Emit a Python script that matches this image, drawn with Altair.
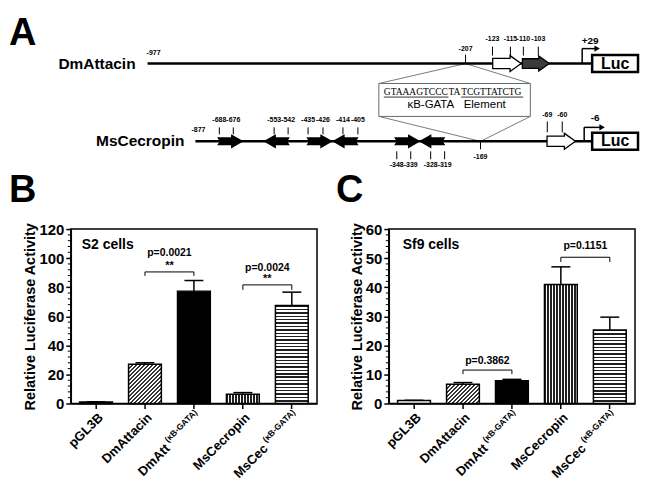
import math
import altair as alt
import pandas as pd

FONT = "Liberation Sans"
SERIF = "Liberation Serif"

# ================= Panel A : promoter schematics (schematic track units) ======
A_LEFT, A_RIGHT, A_H = 62, 633, 161      # track extent; panel origin sits at A_LEFT
row_names = ["DmAttacin", "MsCecropin"]
row_y = [54, 132]
row_label_x = [127, 176]
row_line_x1 = [139, 187]
row_line_x2 = [585, 585]
start_label = ["-977", "-877"]
start_label_x = [145, 190]
start_label_y = [43, 121]

site_label = ["-207", "-123", "-115", "-110", "-103",
              "-688", "-676", "-553", "-542", "-435", "-426", "-414", "-405",
              "-348", "-339", "-328", "-319", "-169", "-69", "-60"]
site_x = [458, 485, 503, 516, 531,
          211, 225, 266, 280, 300, 315, 335, 350,
          389, 403, 423, 437, 473, 540, 555]
site_y1 = [45, 37, 37, 37, 37] + [118] * 8 + [142] * 4 + [132, 112, 112]
site_y2 = [54, 46, 46, 46, 46] + [125] * 8 + [150] * 4 + [140, 123, 123]
site_label_y = [39, 29, 29, 29, 29] + [111] * 8 + [156] * 4 + [148, 106, 106]

arrow_x = [499.5, 528.5, 554, 222, 268.5, 311.5, 337.5, 399.5, 424.5]
arrow_row = [0, 0, 1, 1, 1, 1, 1, 1, 1]
arrow_angle = [0, 0, 0, 0, 180, 0, 180, 0, 180]
arrow_kind = ["open", "dark", "open", "black", "black", "black", "black", "black", "black"]

tss_x = [575, 577]
tss_top = [39, 118]
tss_tip = [590, 595]
tss_label = ["+29", "-6"]
tss_label_x = [583, 588]
tss_label_y = [31, 109]

luc_x1, luc_x2, luc_half = 585, 631, 8.5

zoom_x1 = [458, 458, 371, 523]
zoom_y1 = [54, 54, 107, 107]
zoom_x2 = [371, 523, 473, 473]
zoom_y2 = [74, 74, 132, 132]
box_x = [371, 523]
box_y = [74, 107]

seq_parts = ["GTAAAGTCCC", "TA", "TCGTTATCTG"]
seq_underlined = [True, False, True]
seq_start, seq_base, seq_size = 376, 86, 9.5
element_text = "\u03baB-GATA\u00a0\u00a0\u00a0Element"
element_x, element_y = 449, 96

# ================= Panels B / C : luciferase assays ==========================
categories = ["pGL3B", "DmAttacin", "DmAtt", "MsCecropin", "MsCec"]
sup_text = ["", "", "(\u03baB-GATA)", "", "(\u03baB-GATA)"]
patterns = ["white", "diag", "black", "vert", "horiz"]

s2_mean = [1.0, 27.0, 77.3, 6.3, 67.4]
s2_sem = [0.2, 1.0, 7.3, 1.2, 9.2]
sf9_mean = [1.0, 6.6, 7.8, 40.9, 25.3]
sf9_sem = [0.1, 0.6, 0.5, 6.1, 4.4]

s2_br_from = ["DmAttacin", "MsCecropin"]
s2_br_to = ["DmAtt", "MsCec"]
s2_br_top = [90.5, 81.6]
s2_br_foot = [87.8, 78.2]
s2_p = ["p=0.0021", "p=0.0024"]
s2_p_y = [103.5, 93.3]
s2_star = ["**", "**"]
s2_star_y = [94.6, 85.7]

sf9_br_from = ["DmAttacin", "MsCecropin"]
sf9_br_to = ["DmAtt", "MsCec"]
sf9_br_top = [11.5, 50.3]
sf9_br_foot = [10.1, 48.7]
sf9_p = ["p=0.3862", "p=0.1151"]
sf9_p_y = [14.6, 54.0]
sf9_star = ["", ""]
sf9_star_y = [0, 0]

PW, PH = 247, 175
P_INNER, P_OUTER = 0.33, 0.18


# ---------------------------------------------------------------- panel A
xa = alt.Scale(domain=[A_LEFT, A_RIGHT])
ya = alt.Scale(domain=[A_H, 0])


def AX(f):
    return alt.X(f"{f}:Q", scale=xa, axis=None)


def AY(f):
    return alt.Y(f"{f}:Q", scale=ya, axis=None)


df_rows = pd.DataFrame({"name": row_names, "y": row_y, "lx": row_label_x,
                        "x1": row_line_x1, "x2": row_line_x2,
                        "sl": start_label, "slx": start_label_x, "sly": start_label_y})
df_sites = pd.DataFrame({"label": site_label, "x": site_x, "y1": site_y1,
                         "y2": site_y2, "ly": site_label_y})
df_arrows = pd.DataFrame({"x": arrow_x, "y": [row_y[r] for r in arrow_row],
                          "angle": arrow_angle, "kind": arrow_kind})
df_tss = pd.DataFrame({"x": tss_x, "y0": row_y, "top": tss_top, "tip": tss_tip,
                       "label": tss_label, "lx": tss_label_x, "ly": tss_label_y})
df_luc = pd.DataFrame({"x1": [luc_x1] * 2, "x2": [luc_x2] * 2,
                       "y1": [y - luc_half for y in row_y],
                       "y2": [y + luc_half for y in row_y],
                       "cx": [(luc_x1 + luc_x2) / 2] * 2, "y": row_y, "t": ["Luc"] * 2})
df_zoom = pd.DataFrame({"x": zoom_x1, "y": zoom_y1, "x2": zoom_x2, "y2": zoom_y2})
df_box = pd.DataFrame({"x": [box_x[0]], "x2": [box_x[1]], "y": [box_y[0]], "y2": [box_y[1]]})

TIMES_W = {"G": 0.722, "T": 0.611, "A": 0.722, "C": 0.667}
seq_x, seq_xe = [], []
cur = seq_start
for part in seq_parts:
    w = sum(TIMES_W[c] for c in part) * seq_size
    seq_x.append(cur)
    seq_xe.append(cur + w)
    cur += w
df_seq = pd.DataFrame({"part": seq_parts, "x": seq_x, "xe": seq_xe,
                       "u": seq_underlined, "y": [seq_base] * 3,
                       "uy": [seq_base + 1.6] * 3})

OPEN_PATH = "M -1 -0.36 L 0.22 -0.36 L 0.22 -0.56 L 1 0 L 0.22 0.56 L 0.22 0.36 L -1 0.36 Z"
BLACK_PATH = "M -1 -0.28 L 0.12 -0.28 L 0.12 -0.5 L 1 0 L 0.12 0.5 L 0.12 0.28 L -1 0.28 L -0.82 0 Z"

small = dict(font=FONT, fontWeight="bold", fontSize=7, baseline="middle", color="black")

layersA = [
    alt.Chart(df_zoom).mark_rule(color="#7a7a7a", strokeWidth=1).encode(
        x=AX("x"), y=AY("y"), x2=alt.X2("x2"), y2=alt.Y2("y2")),
    alt.Chart(df_box).mark_rect(fill="white", stroke="#6a6a6a", strokeWidth=1).encode(
        x=AX("x"), x2=alt.X2("x2"), y=AY("y"), y2=alt.Y2("y2")),
    alt.Chart(df_rows).mark_rule(color="black", strokeWidth=2.5).encode(
        x=AX("x1"), x2=alt.X2("x2"), y=AY("y")),
    alt.Chart(df_sites).mark_rule(color="black", strokeWidth=1).encode(
        x=AX("x"), y=AY("y1"), y2=alt.Y2("y2")),
    alt.Chart(df_sites).mark_text(**small).encode(
        x=AX("x"), y=AY("ly"), text="label:N"),
    alt.Chart(df_rows).mark_text(**small).encode(
        x=AX("slx"), y=AY("sly"), text="sl:N"),
    alt.Chart(df_rows).mark_text(fontWeight="bold", fontSize=15.5, align="right",
                                 baseline="middle", color="black").encode(
        x=AX("lx"), y=AY("y"), text="name:N"),
]
for kind, path, length, fill in [("open", OPEN_PATH, 28.5, "white"),
                                 ("dark", OPEN_PATH, 27, "#3a3a3a"),
                                 ("black", BLACK_PATH, 24, "black")]:
    layersA.append(
        alt.Chart(df_arrows).transform_filter(alt.datum.kind == kind).mark_point(
            shape=path, size=length * length, filled=True, fill=fill, stroke="black",
            strokeWidth=1.3, opacity=1).encode(
            x=AX("x"), y=AY("y"), angle=alt.Angle("angle:Q", scale=None)))
layersA += [
    alt.Chart(df_tss).mark_rule(color="black", strokeWidth=1.5).encode(
        x=AX("x"), y=AY("y0"), y2=alt.Y2("top")),
    alt.Chart(df_tss).mark_rule(color="black", strokeWidth=1.5).encode(
        x=AX("x"), x2=alt.X2("tip"), y=AY("top")),
    alt.Chart(df_tss).mark_point(shape="triangle-right", size=40, filled=True,
                                 color="black", opacity=1).encode(
        x=AX("tip"), y=AY("top")),
    alt.Chart(df_tss).mark_text(fontWeight="bold", fontSize=10,
                                baseline="middle", color="black").encode(
        x=AX("lx"), y=AY("ly"), text="label:N"),
    alt.Chart(df_luc).mark_rect(fill="white", stroke="black", strokeWidth=2.5).encode(
        x=AX("x1"), x2=alt.X2("x2"), y=AY("y1"), y2=alt.Y2("y2")),
    alt.Chart(df_luc).mark_text(fontWeight="bold", fontSize=16, baseline="middle",
                                color="black").encode(
        x=AX("cx"), y=AY("y"), text="t:N"),
    alt.Chart(df_seq).mark_text(font=SERIF, fontSize=seq_size, align="left",
                                baseline="alphabetic", color="black").encode(
        x=AX("x"), y=AY("y"), text="part:N"),
    alt.Chart(df_seq).transform_filter(alt.datum.u).mark_rule(
        color="black", strokeWidth=0.8).encode(
        x=AX("x"), x2=alt.X2("xe"), y=AY("uy")),
    alt.Chart(pd.DataFrame({"t": [element_text], "x": [element_x], "y": [element_y]}))
    .mark_text(fontSize=11.5, baseline="middle", color="black").encode(
        x=AX("x"), y=AY("y"), text="t:N"),
    alt.Chart(pd.DataFrame({"t": ["A"]})).mark_text(
        fontSize=38, fontWeight="bold", align="left", baseline="top", color="black").encode(
        x=alt.value(-A_LEFT), y=alt.value(5), text="t:N"),
]
panelA = alt.layer(*layersA).properties(
    width=A_RIGHT - A_LEFT, height=A_H, view=alt.ViewBackground(stroke="transparent"))


# ---------------------------------------------------------------- panels B/C
def stripe_gradient(x1, y1, x2, y2, n, frac=0.42, line="#202020", bg="white"):
    stops = []
    for k in range(n):
        a, b, e = k / n, (k + frac) / n, (k + 1) / n
        stops += [alt.GradientStop(offset=a, color=line),
                  alt.GradientStop(offset=b, color=line),
                  alt.GradientStop(offset=b, color=bg),
                  alt.GradientStop(offset=e, color=bg)]
    return alt.LinearGradient(gradient="linear", stops=stops, x1=x1, y1=y1, x2=x2, y2=y2)


def bar_fill(pattern, h_px, w_px):
    if pattern in ("white", "black"):
        return pattern
    if pattern == "vert":
        return stripe_gradient(0, 0, 1, 0, 11)
    if pattern == "horiz":
        return stripe_gradient(0, 0, 0, 1, max(1, round(h_px / 3.4)))
    # diagonal "////" hatch (gradient normal runs toward the lower right)
    c = (w_px + h_px) / (w_px ** 2 + h_px ** 2)
    n = max(1, round((w_px + h_px) / math.sqrt(2) / 2.8))
    return stripe_gradient(0, 0, w_px * c, h_px * c, n, frac=0.42, line="#333333")


def make_panel(means, sems, ymax, major, minor, letter, letter_x, cell_text, cell_x,
               br_from, br_to, br_top, br_foot, p_txt, p_y, star, star_y):
    step = PW / (len(categories) - P_INNER + 2 * P_OUTER)
    bw = step * (1 - P_INNER)
    xs = alt.Scale(domain=categories, paddingInner=P_INNER, paddingOuter=P_OUTER)
    ys = alt.Scale(domain=[0, ymax], nice=False)
    yax = alt.Axis(values=list(range(0, ymax + 1, major)),
                   title="Relative Luciferase Activity",
                   labelFontSize=15, labelFontWeight="bold", labelColor="black",
                   titleFontSize=14.5, titleFontWeight="bold", titleColor="black",
                   tickSize=5, tickWidth=1.5, tickColor="black",
                   domainColor="black", domainWidth=1.5, grid=False,
                   labelPadding=2, titlePadding=1)
    xax = alt.Axis(labels=False, title=None, tickSize=5, tickWidth=1.5,
                   tickColor="black", domainColor="black", domainWidth=1.5, grid=False)
    df = pd.DataFrame({"cat": categories, "mean": means,
                       "upper": [m + s for m, s in zip(means, sems)],
                       "sup": sup_text, "pat": patterns})
    X = alt.X("cat:N", scale=xs, axis=xax)

    def Y(f):
        return alt.Y(f"{f}:Q", scale=ys, axis=yax)

    layers = []
    for cat, m, pat in zip(categories, means, patterns):
        layers.append(
            alt.Chart(df).transform_filter(alt.datum.cat == cat).mark_bar(
                fill=bar_fill(pat, m * PH / ymax, bw), stroke="black",
                strokeWidth=1.5).encode(x=X, y=Y("mean")))
    layers += [
        alt.Chart(df).mark_rule(color="black", strokeWidth=1.5).encode(
            x=X, y=Y("mean"), y2=alt.Y2("upper")),
        alt.Chart(df).mark_tick(orient="horizontal", size=19, thickness=1.5,
                                color="black", opacity=1).encode(
            x=X, y=Y("upper")),
    ]
    # minor ticks on the value axis
    minor_vals = [v for v in range(0, ymax + 1, minor) if v % major != 0]
    layers.append(
        alt.Chart(pd.DataFrame({"v": minor_vals})).mark_rule(
            color="black", strokeWidth=1).encode(
            x=alt.value(-3), x2=alt.value(0), y=Y("v")))
    # significance brackets
    pts = []
    for i, (a, b, t, f) in enumerate(zip(br_from, br_to, br_top, br_foot)):
        pts += [dict(id=i, o=0, cat=a, y=f), dict(id=i, o=1, cat=a, y=t),
                dict(id=i, o=2, cat=b, y=t), dict(id=i, o=3, cat=b, y=f)]
    layers.append(
        alt.Chart(pd.DataFrame(pts)).mark_line(color="black", strokeWidth=1).encode(
            x=X, y=Y("y"), detail="id:N", order="o:Q"))
    df_txt = pd.DataFrame({"cat": br_from, "p": p_txt, "py": p_y,
                           "s": star, "sy": star_y})
    layers += [
        alt.Chart(df_txt).mark_text(fontSize=10.5, fontWeight="bold", dx=step / 2,
                                    baseline="middle", color="black").encode(
            x=X, y=Y("py"), text="p:N"),
        alt.Chart(df_txt).transform_filter(alt.datum.s != "").mark_text(
            fontSize=11, fontWeight="bold", dx=step / 2, baseline="middle",
            color="black").encode(x=X, y=Y("sy"), text="s:N"),
    ]
    # rotated category labels with superscripts
    lab = dict(angle=315, align="right", baseline="middle", fontWeight="bold",
               color="black")
    layers += [
        alt.Chart(df).transform_filter(alt.datum.sup == "").mark_text(
            fontSize=13, dx=-5, dy=12, **lab).encode(
            x=X, y=alt.value(PH), text="cat:N"),
        alt.Chart(df).transform_filter(alt.datum.sup != "").mark_text(
            fontSize=13, dx=-49, dy=12, **lab).encode(
            x=X, y=alt.value(PH), text="cat:N"),
        alt.Chart(df).transform_filter(alt.datum.sup != "").mark_text(
            fontSize=8.5, dx=-4, dy=6.5, **lab).encode(
            x=X, y=alt.value(PH), text="sup:N"),
    ]
    layers += [
        alt.Chart(pd.DataFrame({"t": [letter]})).mark_text(
            fontSize=38, fontWeight="bold", align="left", baseline="top",
            color="black").encode(x=alt.value(letter_x), y=alt.value(-57), text="t:N"),
        alt.Chart(pd.DataFrame({"t": [cell_text]})).mark_text(
            fontSize=14, fontWeight="bold", align="left", baseline="middle",
            color="black").encode(x=alt.value(cell_x), y=alt.value(16), text="t:N"),
    ]
    return alt.layer(*layers).properties(
        width=PW, height=PH,
        view=alt.ViewBackground(stroke="black", strokeWidth=1.5))


panelB = make_panel(s2_mean, s2_sem, 120, 20, 4, "B", -62, "S2 cells", 11,
                    s2_br_from, s2_br_to, s2_br_top, s2_br_foot,
                    s2_p, s2_p_y, s2_star, s2_star_y)
panelC = make_panel(sf9_mean, sf9_sem, 60, 10, 2, "C", -53, "Sf9 cells", 14,
                    sf9_br_from, sf9_br_to, sf9_br_top, sf9_br_foot,
                    sf9_p, sf9_p_y, sf9_star, sf9_star_y)

chart = alt.vconcat(
    panelA,
    alt.hconcat(panelB, panelC, spacing=17),
    spacing=0,
).properties(padding=0).configure(font=FONT)

chart.save("out.html", embed_options={"renderer": "svg", "actions": False})
